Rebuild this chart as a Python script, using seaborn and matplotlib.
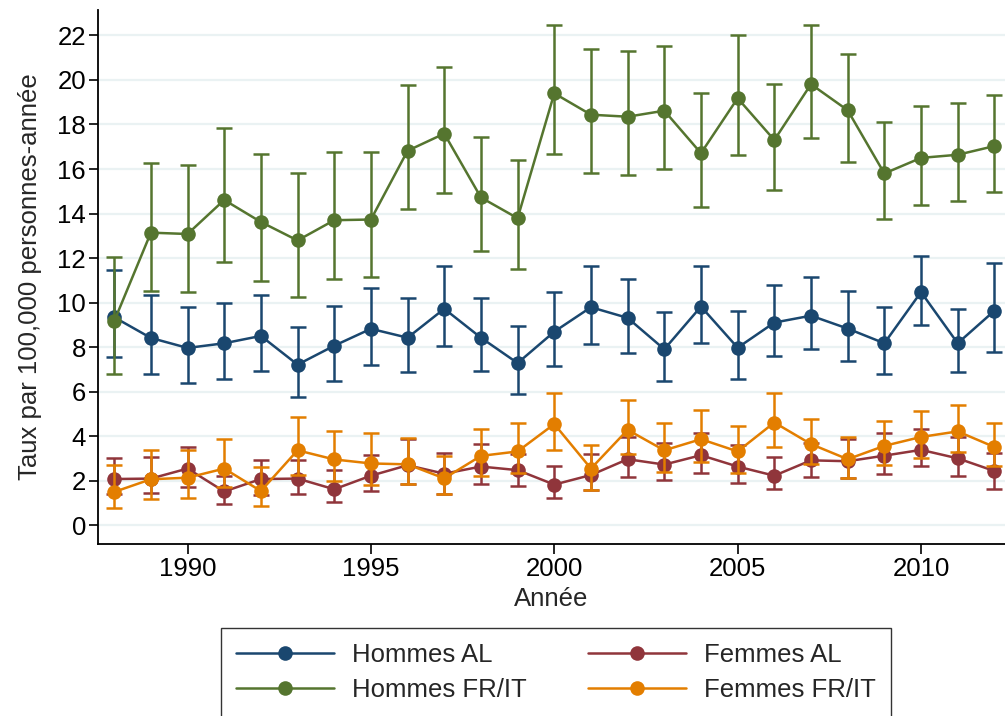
import numpy as np
import pandas as pd
import matplotlib
matplotlib.use("Agg")
import matplotlib.pyplot as plt
from matplotlib.lines import Line2D
import seaborn as sns

# Années d'observation
years = list(range(1988, 2013))

# Hommes AL : taux et intervalle de confiance
hommes_al = [9.34, 8.41, 7.96, 8.17, 8.50, 7.21, 8.06, 8.82, 8.42, 9.72, 8.42, 7.28, 8.69,
             9.79, 9.31, 7.90, 9.82, 7.97, 9.10, 9.41, 8.83, 8.17, 10.47, 8.17, 9.63]
hommes_al_lo = [7.57, 6.77, 6.38, 6.55, 6.91, 5.74, 6.49, 7.21, 6.86, 8.05, 6.91, 5.89, 7.15,
                8.14, 7.73, 6.46, 8.20, 6.58, 7.60, 7.91, 7.36, 6.79, 8.98, 6.86, 7.79]
hommes_al_hi = [11.44, 10.33, 9.79, 9.99, 10.35, 8.92, 9.86, 10.65, 10.21, 11.62, 10.20, 8.94, 10.47,
                11.62, 11.08, 9.57, 11.64, 9.61, 10.81, 11.16, 10.51, 9.81, 12.07, 9.70, 11.77]

# Femmes AL
femmes_al = [2.07, 2.09, 2.54, 1.51, 2.07, 2.09, 1.61, 2.22, 2.69, 2.31, 2.63, 2.47, 1.82,
             2.25, 2.96, 2.72, 3.14, 2.63, 2.22, 2.91, 2.87, 3.12, 3.38, 3.00, 2.43]
femmes_al_lo = [1.40, 1.43, 1.73, 0.97, 1.35, 1.41, 1.04, 1.53, 1.83, 1.41, 1.85, 1.75, 1.20,
                1.58, 2.18, 2.01, 2.36, 1.89, 1.62, 2.14, 2.12, 2.31, 2.64, 2.22, 1.61]
femmes_al_hi = [3.03, 3.04, 3.49, 2.20, 2.94, 2.93, 2.48, 3.14, 3.89, 3.23, 3.64, 3.20, 2.64,
                3.20, 3.96, 3.71, 4.14, 3.62, 3.08, 3.70, 3.86, 4.14, 4.30, 3.96, 3.25]

# Hommes FR/IT
hommes_frit = [9.16, 13.14, 13.08, 14.61, 13.62, 12.79, 13.70, 13.73, 16.82, 17.59, 14.72, 13.79, 19.40,
               18.44, 18.35, 18.62, 16.71, 19.18, 17.30, 19.81, 18.64, 15.80, 16.50, 16.64, 17.03]
hommes_frit_lo = [6.77, 10.54, 10.48, 11.83, 10.98, 10.24, 11.08, 11.13, 14.21, 14.94, 12.31, 11.52, 16.68,
                  15.80, 15.72, 16.02, 14.28, 16.61, 15.05, 17.39, 16.32, 13.74, 14.40, 14.55, 14.96]
hommes_frit_hi = [12.04, 16.25, 16.17, 17.84, 16.68, 15.80, 16.77, 16.76, 19.76, 20.57, 17.46, 16.41, 22.45,
                  21.40, 21.28, 21.53, 19.43, 22.03, 19.81, 22.45, 21.16, 18.09, 18.82, 18.95, 19.34]

# Femmes FR/IT
femmes_frit = [1.49, 2.06, 2.13, 2.54, 1.53, 3.36, 2.95, 2.77, 2.73, 2.10, 3.11, 3.31, 4.54,
               2.54, 4.28, 3.36, 3.86, 3.31, 4.61, 3.64, 2.96, 3.56, 3.96, 4.21, 3.51]
femmes_frit_lo = [0.78, 1.19, 1.23, 1.70, 0.85, 2.25, 1.98, 1.79, 1.85, 1.40, 2.19, 2.33, 3.39,
                  1.59, 3.18, 2.39, 2.84, 2.34, 3.50, 2.73, 2.13, 2.69, 3.02, 3.29, 2.66]
femmes_frit_hi = [2.71, 3.36, 3.38, 3.89, 2.63, 4.84, 4.25, 4.13, 3.91, 3.09, 4.32, 4.57, 5.93,
                  3.62, 5.63, 4.59, 5.15, 4.46, 5.93, 4.76, 3.98, 4.67, 5.11, 5.39, 4.61]

series_names = ["Hommes AL", "Femmes AL", "Hommes FR/IT", "Femmes FR/IT"]
series_colors = ["#1A476F", "#90353B", "#55752F", "#E37E00"]

x_ticks = [1990, 1995, 2000, 2005, 2010]
y_ticks = list(range(0, 23, 2))

x_label = "Année"
y_label = "Taux par 100,000 personnes-année"

# Table longue pour seaborn
frames = []
for name, est, lo, hi in zip(series_names,
                             [hommes_al, femmes_al, hommes_frit, femmes_frit],
                             [hommes_al_lo, femmes_al_lo, hommes_frit_lo, femmes_frit_lo],
                             [hommes_al_hi, femmes_al_hi, hommes_frit_hi, femmes_frit_hi]):
    frames.append(pd.DataFrame({"annee": years, "taux": est, "bas": lo, "haut": hi, "groupe": name}))
df = pd.concat(frames, ignore_index=True)

sns.set_theme(style="white")
plt.rcParams["font.family"] = ["Liberation Sans", "DejaVu Sans"]

FS = 18.5
fig = plt.figure(figsize=(10.05, 7.16), dpi=100)
ax = fig.add_axes([0.0972, 0.2402, 1.0 - 0.0972, 0.746])

# Grille horizontale
for yt in y_ticks:
    ax.axhline(yt, color="#EAF2F3", linewidth=1.6, zorder=0)

for i, (name, color) in enumerate(zip(series_names, series_colors)):
    sub = df[df["groupe"] == name]
    ax.errorbar(sub["annee"], sub["taux"],
                yerr=[sub["taux"] - sub["bas"], sub["haut"] - sub["taux"]],
                fmt="none", ecolor=color, elinewidth=1.8, capsize=5.5, capthick=1.8,
                zorder=2 + 2 * i)
    sns.lineplot(data=sub, x="annee", y="taux", color=color, marker="o",
                 markersize=10.5, markeredgewidth=0, linewidth=1.8, ax=ax,
                 legend=False, errorbar=None, zorder=3 + 2 * i)

ax.set_xlim(1987.55, 2012.29)
ax.set_ylim(-0.85, 23.15)
ax.set_xticks(x_ticks)
ax.set_yticks(y_ticks)
ax.tick_params(axis="both", labelsize=FS, colors="black", direction="out",
               width=1.2, left=True, bottom=True)
ax.tick_params(axis="x", length=7, pad=2)
ax.tick_params(axis="y", length=6.5, pad=2)
ax.set_xlabel(x_label, fontsize=FS, labelpad=5)
ax.set_ylabel(y_label, fontsize=FS, labelpad=11)

for side in ["top", "right"]:
    ax.spines[side].set_visible(False)
for side in ["left", "bottom"]:
    ax.spines[side].set_color("black")
    ax.spines[side].set_linewidth(1.3)

# Légende sur deux colonnes : Hommes à gauche, Femmes à droite
handles = {name: Line2D([], [], color=c, marker="o", markersize=10.5, markeredgewidth=0,
                        linewidth=1.8) for name, c in zip(series_names, series_colors)}
leg_order = ["Hommes AL", "Hommes FR/IT", "Femmes AL", "Femmes FR/IT"]
leg = fig.legend([handles[n] for n in leg_order], leg_order, ncol=2,
                 loc="upper center", bbox_to_anchor=(0.553, 0.123),
                 bbox_transform=fig.transFigure, fontsize=FS, frameon=True,
                 fancybox=False, edgecolor="#333333", framealpha=1,
                 handlelength=3.8, handletextpad=0.7, columnspacing=2.4,
                 borderpad=0.6, borderaxespad=0, labelspacing=0.4)
leg.get_frame().set_linewidth(1.0)

fig.savefig("out.png", dpi=100, facecolor="white")
